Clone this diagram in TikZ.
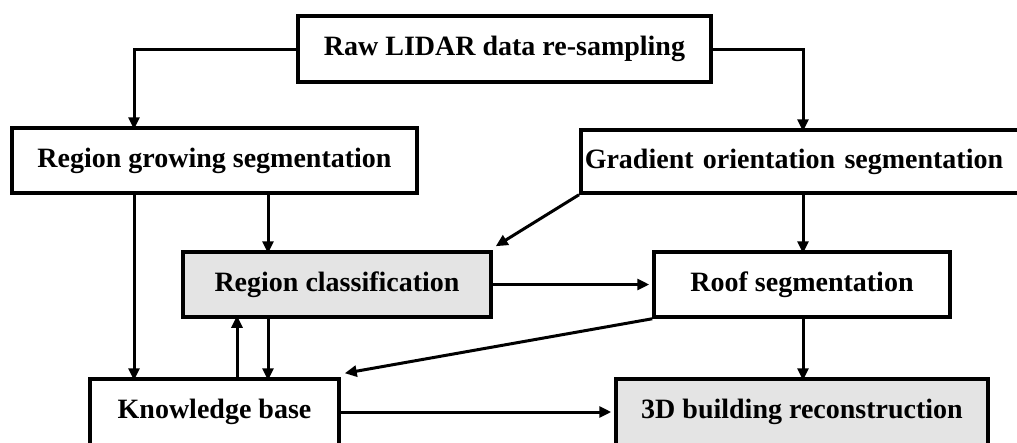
\documentclass[tikz,border=0pt]{standalone}
\usepackage{fontspec}
\setmainfont{Liberation Serif}
\usetikzlibrary{arrows.meta}
\definecolor{boxgray}{HTML}{E4E4E4}
\tikzset{
  box/.style={draw=black, line width=3.5pt, inner sep=0pt, font=\fontsize{28}{30}\selectfont\bfseries, fill=white},
  grayfill/.style={fill=boxgray},
  arr/.style={line width=3pt, -{Triangle[length=12pt,width=11pt]}},
}
\begin{document}
\begin{tikzpicture}[x=1pt,y=-1pt]
\useasboundingbox (0,0) rectangle (1017,442);
\clip (0,0) rectangle (1017,442);
\node[box, minimum width=413pt, minimum height=66pt] (raw) at (504.5,49) {Raw LIDAR data re-sampling};
\node[box, minimum width=405pt, minimum height=65pt] (rg) at (214.5,160.5) {Region growing segmentation};
\node[box, anchor=west, minimum height=63pt, text width=438pt, inner xsep=4pt, align=left] (go) at (579,161.5) {Gradient orientation segmentation};
\node[box, grayfill, minimum width=308pt, minimum height=65pt] (rc) at (337,284.5) {Region classification};
\node[box, minimum width=296pt, minimum height=65pt] (roof) at (802,284.5) {Roof segmentation};
\node[box, minimum width=249pt, minimum height=66pt] (kb) at (214.5,412) {Knowledge base};
\node[box, grayfill, minimum width=372pt, minimum height=66pt] (rec) at (802,412) {3D building reconstruction};
\coordinate (xa) at (134,0);
\coordinate (xb) at (268,0);
\coordinate (xc) at (237,0);
\coordinate (xd) at (803,0);
\draw[arr] (raw.west) -| ([yshift=-3pt]xa |- rg.north);
\draw[arr] (raw.east) -| ([yshift=-3pt]xd |- go.north);
\draw[arr] (xa |- rg.south) -- ([yshift=-3pt]xa |- kb.north);
\draw[arr] (xb |- rg.south) -- ([yshift=-3pt]xb |- rc.north);
\draw[arr] (go.south west) -- ([shift={(3,-4)}]rc.north east);
\draw[arr] (xd |- go.south) -- ([yshift=-3pt]xd |- roof.north);
\draw[arr] (rc.east) -- ([xshift=-3pt]roof.west);
\draw[arr] (xb |- rc.south) -- ([yshift=-3pt]xb |- kb.north);
\draw[arr] (xc |- kb.north) -- ([yshift=3pt]xc |- rc.south);
\draw[arr] (roof.south west) -- ([shift={(4,-4)}]kb.north east);
\draw[arr] (xd |- roof.south) -- ([yshift=-3pt]xd |- rec.north);
\draw[arr] (kb.east) -- ([xshift=-3pt]rec.west);
\end{tikzpicture}
\end{document}
